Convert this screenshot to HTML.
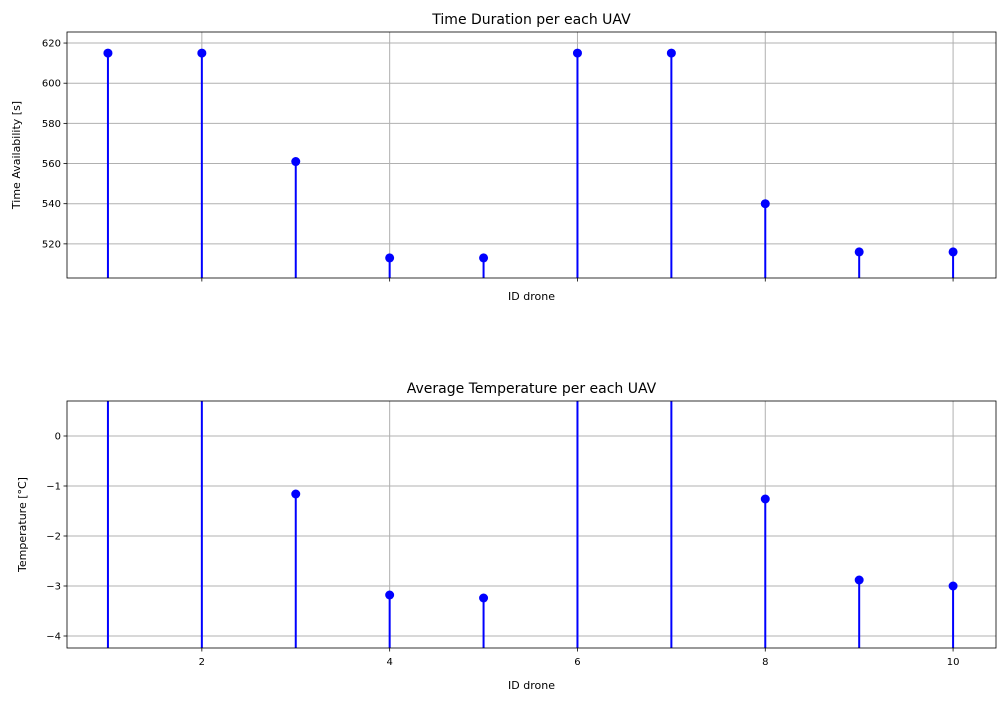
<!DOCTYPE html>
<html><head><meta charset="utf-8"><style>
body{margin:0;background:#fff;font-family:"Liberation Sans","DejaVu Sans",sans-serif}
</style></head><body>
<svg id="c" width="1005" height="701" xmlns="http://www.w3.org/2000/svg" font-family="DejaVu Sans, Liberation Sans, sans-serif"></svg>
<script>
const ids=[1,2,3,4,5,6,7,8,9,10];
const timeVals=[615,615,561,513,513,615,615,540,516,516];
const tempVals=[5,5,-1.16,-3.18,-3.24,5,5,-1.26,-2.88,-3.0];
const xTicks=[2,4,6,8,10];
const timeTicks=[520,540,560,580,600,620];
const tempTicks=[-4,-3,-2,-1,0];
const NS="http://www.w3.org/2000/svg";
const svg=document.getElementById('c');
function mk(t,a,p){const e=document.createElementNS(NS,t);for(const k in a)e.setAttribute(k,a[k]);(p||svg).appendChild(e);return e;}
const L=67,R=996,xmin=0.564,xmax=10.457;
const xs=v=>L+(v-xmin)/(xmax-xmin)*(R-L);
function panel(name,T,B,ymin,ymax,vals,yticks,title,ylabel,showX){
  const ys=v=>B-(v-ymin)/(ymax-ymin)*(B-T);
  const g=mk('g',{});
  const cid='clip'+name;const cp=mk('clipPath',{id:cid},g);mk('rect',{x:L,y:T,width:R-L,height:B-T},cp);
  xTicks.forEach(t=>{const l=mk('line',{x1:xs(t),x2:xs(t),y1:T,y2:B,stroke:'#b0b0b0','stroke-width':1},g);
    mk('line',{x1:xs(t),x2:xs(t),y1:B,y2:B+3.5,stroke:'#000','stroke-width':0.8},g);
    if(showX){const tx=mk('text',{x:xs(t),y:B+17,'font-size':10,'text-anchor':'middle'},g);tx.textContent=t;}});
  yticks.forEach(t=>{const y=ys(t);const l=mk('line',{x1:L,x2:R,y1:y,y2:y,stroke:'#b0b0b0','stroke-width':1},g);
    mk('line',{x1:L-3.5,x2:L,y1:y,y2:y,stroke:'#000','stroke-width':0.8},g);
    const tx=mk('text',{x:L-6,y:y+3.5,'font-size':10,'text-anchor':'end'},g);tx.textContent=t<0?'\u2212'+(-t):t;});
  const sg=mk('g',{'clip-path':'url(#'+cid+')'},g);
  vals.forEach((v,i)=>{const x=xs(ids[i]);
    const s=mk('line',{x1:x,x2:x,y1:B,y2:ys(v),stroke:'#0000ff','stroke-width':2},sg);
    const c=mk('circle',{cx:x,cy:ys(v),r:4.5,fill:'#0000ff'},sg);});
  const f=mk('rect',{x:L,y:T,width:R-L,height:B-T,fill:'none',stroke:'#000','stroke-width':0.8},g);
  const ti=mk('text',{x:(L+R)/2,y:T-8,'font-size':14,'text-anchor':'middle'},g);ti.textContent=title;
  const xl=mk('text',{x:(L+R)/2,y:showX?B+41:B+22,'font-size':11,'text-anchor':'middle'},g);xl.textContent='ID drone';
  const yl=mk('text',{x:0,y:0,'font-size':11,'text-anchor':'middle',transform:`translate(${name==='time'?20:26},${(T+B)/2}) rotate(-90)`},g);yl.textContent=ylabel;
}
panel('time',32,278,503,625.5,timeVals,timeTicks,'Time Duration per each UAV','Time Availability [s]',false);
panel('temp',401,648,-4.24,0.7,tempVals,tempTicks,'Average Temperature per each UAV','Temperature [°C]',true);
</script></body></html>
